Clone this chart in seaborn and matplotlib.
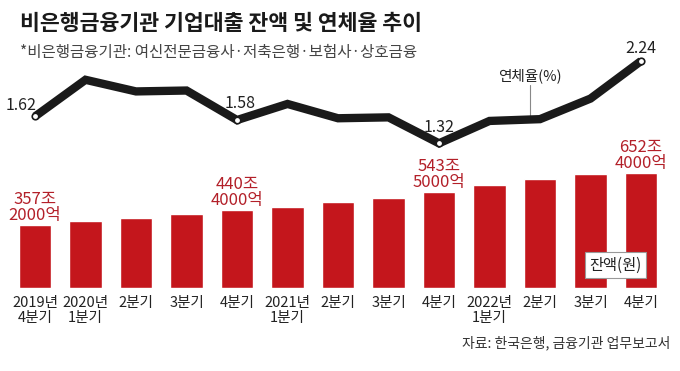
import matplotlib
matplotlib.use("Agg")
import matplotlib.pyplot as plt
import seaborn as sns
import pandas as pd

# Data
quarters = ["2019년\n4분기", "2020년\n1분기", "2분기", "3분기", "4분기", "2021년\n1분기",
            "2분기", "3분기", "4분기", "2022년\n1분기", "2분기", "3분기", "4분기"]
balance = [357.2, 380, 399, 418, 440.4, 460, 490, 513, 543.5, 584, 620, 645, 652.4]  # 조원
rate = [1.62, 2.03, 1.90, 1.91, 1.58, 1.76, 1.60, 1.61, 1.32, 1.57, 1.59, 1.82, 2.24]  # %
balance_labels = {0: "357조\n2000억", 4: "440조\n4000억", 8: "543조\n5000억", 12: "652조\n4000억"}
rate_labels = {0: "1.62", 4: "1.58", 8: "1.32", 12: "2.24"}

RED = "#C4161C"
LABEL_RED = "#B32029"

sns.set_theme(style="white")
plt.rcParams["font.family"] = ["Noto Sans CJK KR", "DejaVu Sans"]

fig = plt.figure(figsize=(6.8, 3.71), dpi=100)
left, width = 9.75 / 680, 656.5 / 680
ax_bar = fig.add_axes([left, 83 / 371, width, 125 / 371])
ax_line = fig.add_axes([left, 211 / 371, width, 110 / 371])

df = pd.DataFrame({"idx": range(len(quarters)), "balance": balance, "rate": rate})

# Bars: balance
sns.barplot(data=df, x="idx", y="balance", color=RED, saturation=1, width=0.64, ax=ax_bar)
ax_bar.set_xlim(-0.5, 12.5)
ax_bar.set_ylim(0, 652.4 * 125 / 115)
ax_bar.set_xticks(range(len(quarters)))
ax_bar.set_xticklabels(quarters, fontsize=10.5, color="#222222", linespacing=1.1)
ax_bar.tick_params(axis="x", length=0, pad=6)
ax_bar.set_yticks([])
ax_bar.set_xlabel("")
ax_bar.set_ylabel("")
sns.despine(ax=ax_bar, left=True, bottom=True)
ax_bar.patch.set_alpha(0)

for i, txt in balance_labels.items():
    ax_bar.annotate(txt, (i, balance[i]), xytext=(0, 1), textcoords="offset pixels",
                    ha="center", va="bottom", fontsize=12, color=LABEL_RED,
                    linespacing=0.95, annotation_clip=False)

ax_bar.text(11.5, 130, "잔액(원)", ha="center", va="center", fontsize=11, color="#222222",
            bbox=dict(boxstyle="square,pad=0.3", fc="white", ec="#999999", lw=0.8))

# Line: delinquency rate
sns.lineplot(data=df, x="idx", y="rate", color="#1a1a1a", linewidth=6, ax=ax_line,
             solid_joinstyle="miter", solid_capstyle="butt")
mark = df[df["idx"].isin(rate_labels.keys())]
ax_line.scatter(mark["idx"], mark["rate"], s=22, facecolor="white", edgecolor="#1a1a1a",
                linewidth=1.2, zorder=5)
ax_line.set_xlim(-0.5, 12.5)
ax_line.set_ylim(1.32 - (160 - 143.3) * 0.01118, 1.32 + (143.3 - 50) * 0.01118)
ax_line.axis("off")

offsets = {0: (-14, 11), 4: (3, 17), 8: (0, 16), 12: (0, 13)}
for i, txt in rate_labels.items():
    ax_line.annotate(txt, (i, rate[i]), xytext=offsets[i], textcoords="offset pixels",
                     ha="center", va="center", fontsize=11.5, color="#222222",
                     annotation_clip=False)

ax_line.plot([9.8, 9.8], [1.97, 1.62], color="#888888", lw=0.8, zorder=1)
ax_line.text(9.8, 2.08, "연체율(%)", ha="center", va="center", fontsize=10.5, color="#222222")

# Title, subtitle, source
fig.text(20 / 680, 1 - 24 / 371, "비은행금융기관 기업대출 잔액 및 연체율 추이",
         fontsize=15.6, fontweight="bold", color="#1a1a1a", va="center", ha="left")
fig.text(20 / 680, 1 - 52 / 371, "*비은행금융기관: 여신전문금융사·저축은행·보험사·상호금융",
         fontsize=11.2, color="#444444", va="center", ha="left")
fig.text(670 / 680, 1 - 343 / 371, "자료: 한국은행, 금융기관 업무보고서",
         fontsize=10, color="#333333", va="center", ha="right")

fig.savefig("out.png", dpi=100)
